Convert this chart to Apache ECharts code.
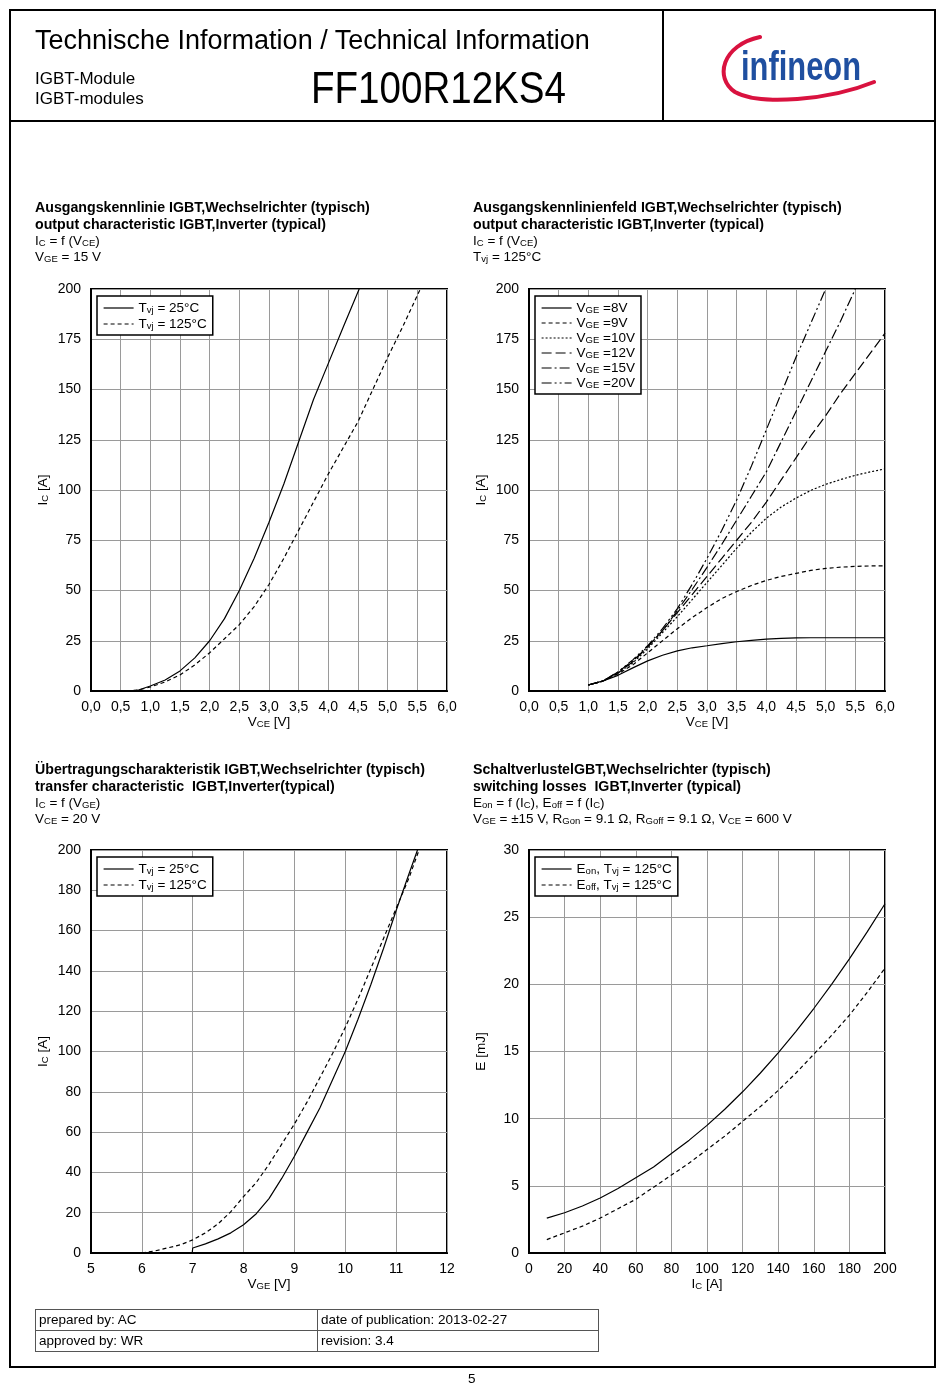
<!DOCTYPE html>
<html><head><meta charset="utf-8">
<script src="https://cdn.jsdelivr.net/npm/echarts@6/dist/echarts.min.js"></script>
<style>
html,body{margin:0;padding:0}
body{width:945px;height:1391px;position:relative;background:#fff;font-family:"Liberation Sans",Arial,sans-serif;color:#000;overflow:hidden}
.a{position:absolute;white-space:nowrap}
.t{font-size:13.5px;line-height:16px}
.t b{font-size:14.2px}
.t sub{font-size:9.5px;vertical-align:-1px;line-height:0}
#chart{position:absolute;left:0;top:0;width:945px;height:1391px}
.cell{position:absolute;border:1px solid #555;box-sizing:border-box;font-size:13.5px;line-height:19px;padding-left:3px}
</style></head><body>
<div id="chart"></div>
<div class="a" style="left:9px;top:9px;width:927px;height:1359px;border:2px solid #000;box-sizing:border-box"></div>
<div class="a" style="left:9px;top:120px;width:927px;height:2px;background:#000"></div>
<div class="a" style="left:662px;top:9px;width:2px;height:113px;background:#000"></div>
<div class="a" style="left:35px;top:27px;font-size:27px;line-height:27px">Technische Information / Technical Information</div>
<div class="a" style="left:35px;top:69px;font-size:17px;line-height:20px">IGBT-Module<br>IGBT-modules</div>
<div class="a" style="left:311px;top:66px;font-size:44px;line-height:44px;transform:scaleX(0.876);transform-origin:0 0">FF100R12KS4</div>
<svg class="a" style="left:700px;top:20px" width="200" height="95" viewBox="700 20 200 95">
<path d="M 760 37 C 722 45, 714 78, 735 92 C 760 106, 830 100, 874 82" fill="none" stroke="#d9123f" stroke-width="4" stroke-linecap="round"/>
<text x="741" y="80" font-family="Liberation Sans Narrow, Liberation Sans, Arial" font-weight="bold" font-size="40" fill="#1f4fa0" textLength="120" lengthAdjust="spacingAndGlyphs">infineon</text>
</svg>

<div class="a t" style="left:35px;top:199px"><b>Ausgangskennlinie IGBT,Wechselrichter (typisch)</b><br><b>output characteristic IGBT,Inverter (typical)</b><br>I<sub>C</sub> = f (V<sub>CE</sub>)<br>V<sub>GE</sub> = 15 V</div>
<div class="a t" style="left:473px;top:199px"><b>Ausgangskennlinienfeld IGBT,Wechselrichter (typisch)</b><br><b>output characteristic IGBT,Inverter (typical)</b><br>I<sub>C</sub> = f (V<sub>CE</sub>)<br>T<sub>vj</sub> = 125°C</div>
<div class="a t" style="left:35px;top:761px"><b>Übertragungscharakteristik IGBT,Wechselrichter (typisch)</b><br><b>transfer characteristic&nbsp; IGBT,Inverter(typical)</b><br>I<sub>C</sub> = f (V<sub>GE</sub>)<br>V<sub>CE</sub> = 20 V</div>
<div class="a t" style="left:473px;top:761px"><b>SchaltverlustelGBT,Wechselrichter (typisch)</b><br><b>switching losses&nbsp; IGBT,Inverter (typical)</b><br>E<sub>on</sub> = f (I<sub>C</sub>), E<sub>off</sub> = f (I<sub>C</sub>)<br>V<sub>GE</sub> = ±15 V, R<sub>Gon</sub> = 9.1 Ω, R<sub>Goff</sub> = 9.1 Ω, V<sub>CE</sub> = 600 V</div>

<div class="cell" style="left:35px;top:1309px;width:283px;height:22px">prepared by: AC</div>
<div class="cell" style="left:317px;top:1309px;width:282px;height:22px">date of publication: 2013-02-27</div>
<div class="cell" style="left:35px;top:1330px;width:283px;height:22px">approved by: WR</div>
<div class="cell" style="left:317px;top:1330px;width:282px;height:22px">revision: 3.4</div>
<div class="a" style="left:468px;top:1371px;font-size:13.5px">5</div>

<script>
// ---- Chart 1: output characteristic, VGE = 15 V ----
const c1_vce_25  = [0.7,0.8,1.0,1.25,1.5,1.75,2.0,2.25,2.5,2.75,3.0,3.25,3.5,3.75,4.0,4.25,4.52];
const c1_ic_25   = [0,0.5,2.5,5.5,10,16.5,25,36,50,66,84,103,124,145,163,181,200];
const c1_vce_125 = [0.6,0.8,1.0,1.25,1.5,1.75,2.0,2.25,2.5,2.75,3.0,3.25,3.5,3.75,4.0,4.25,4.5,4.75,5.0,5.25,5.55];
const c1_ic_125  = [0,0.5,2,4.5,8,13,19,26,33,42,53,66,80,94,108,121,134,150,166,181,200];

// ---- Chart 2: output characteristic field, Tvj = 125°C ----
const c2_vce   = [1.0,1.25,1.5,1.75,2.0,2.25,2.5,2.75,3.0,3.25,3.5,3.75,4.0,4.25,4.5,4.75,5.0,5.25,5.5,5.75,6.0];
const c2_ic_8  = [3,5,7.8,11.5,15,17.8,20,21.5,22.5,23.6,24.5,25.2,25.8,26.2,26.4,26.5,26.5,26.5,26.5,26.5,26.5];
const c2_ic_9  = [3,5,8.5,13,19,25,31,36.5,41.5,46,49.5,52.5,55,57,58.5,60,61,61.6,62,62.2,62.3];
const c2_ic_10 = [3,5,9,14,21,29,37,45.5,54,62.5,71,79,86,91.5,96,99.8,102.8,105.2,107.3,109,110.5];
const c2_ic_12 = [3,5,9,14.5,22,30,39,48,57,66,75,84,94,105,116,127,137,148,158,168,178];
const c2_ic_15 = [3,5,9.5,15,22,30,40,50.5,61.5,73,85,97,109,124,139,154,169,184,200];
const c2_ic_20 = [3,5,9.5,15.5,22.5,31,41,53,66,80,95,112,130,148,166,183,200];

// ---- Chart 3: transfer characteristic, VCE = 20 V ----
const c3_vge_25  = [6.0,6.99,7.0,7.25,7.5,7.75,8.0,8.25,8.5,8.75,9.0,9.25,9.5,9.75,10.0,10.25,10.5,10.75,11.0,11.25,11.42];
const c3_ic_25   = [0,0,2.5,4.5,7,10,14,19.5,27,37,48,60,72,86,100,116,133,151,170,188,200];
const c3_vge_125 = [6.0,6.25,6.5,6.75,7.0,7.25,7.5,7.75,8.0,8.25,8.5,8.75,9.0,9.25,9.5,9.75,10.0,10.25,10.5,10.75,11.0,11.25,11.45];
const c3_ic_125  = [0,1,2.5,4,6.5,10,14.5,20.5,28,35,44,54,64,75,87,99,112,126,141,156,171,186,200];

// ---- Chart 4: switching losses ----
const c4_ic   = [10,20,30,40,50,60,70,80,90,100,110,120,130,140,150,160,170,180,190,200];
const c4_eon  = [2.6,3.0,3.5,4.1,4.8,5.6,6.4,7.4,8.4,9.5,10.7,12.0,13.4,14.9,16.5,18.2,20.0,21.9,23.9,26.0];
const c4_eoff = [1.0,1.5,2.0,2.6,3.3,4.0,4.9,5.8,6.7,7.7,8.7,9.8,10.9,12.1,13.4,14.8,16.2,17.7,19.4,21.2];

// legend labels (rich text)
const legend1 = ['{n|T}{s|vj}{n| = 25°C}','{n|T}{s|vj}{n| = 125°C}'];
const legend2 = ['{n|V}{s|GE}{n| =8V}','{n|V}{s|GE}{n| =9V}','{n|V}{s|GE}{n| =10V}','{n|V}{s|GE}{n| =12V}','{n|V}{s|GE}{n| =15V}','{n|V}{s|GE}{n| =20V}'];
const legend3 = ['{n|T}{s|vj}{n| = 25°C}','{n|T}{s|vj}{n| = 125°C}'];
const legend4 = ['{n|E}{s|on}{n|, T}{s|vj}{n| = 125°C}','{n|E}{s|off}{n|, T}{s|vj}{n| = 125°C}'];

function zip(xs, ys){ return ys.map((y,i)=>[xs[i], y]); }

const FONT = 'Liberation Sans, Arial';
const rich = {
  n:{fontSize:13.5,lineHeight:14,color:'#000',fontFamily:FONT},
  s:{fontSize:9.5,lineHeight:9,verticalAlign:'bottom',color:'#000',fontFamily:FONT}
};
const grids = [
  {left:91, top:289, width:356, height:402},
  {left:529,top:289, width:356, height:402},
  {left:91, top:850, width:356, height:403},
  {left:529,top:850, width:356, height:403}
].map(g=>Object.assign(g,{show:true,borderColor:'#000',borderWidth:2,backgroundColor:'transparent',containLabel:false}));

function xAxis(i,min,max,interval,name,fmt){
  return {type:'value',gridIndex:i,min,max,interval,
    name, nameLocation:'middle', nameGap:24, nameTextStyle:{rich},
    axisLine:{show:true,onZero:false,lineStyle:{color:'#000',width:2}},
    axisTick:{show:false},
    axisLabel:{color:'#000',fontSize:14,fontFamily:FONT,margin:9,formatter:fmt},
    splitLine:{show:true,lineStyle:{color:'#9a9a9a',width:1}}};
}
function yAxis(i,min,max,interval,name){
  return {type:'value',gridIndex:i,min,max,interval,
    name, nameLocation:'middle', nameGap:41, nameTextStyle:{rich},
    axisLine:{show:true,onZero:false,lineStyle:{color:'#000',width:2}},
    axisTick:{show:false},
    axisLabel:{color:'#000',fontSize:14,fontFamily:FONT,margin:10},
    splitLine:{show:true,lineStyle:{color:'#9a9a9a',width:1}}};
}
const comma = v => v.toFixed(1).replace('.',',');

function line(name,xi,data,type){
  return {name,type:'line',xAxisIndex:xi,yAxisIndex:xi,data,symbol:'none',showSymbol:false,
    smooth:false,clip:true,z:5,
    lineStyle:{color:'#000',width:1.2,type}, itemStyle:{color:'#000'}};
}
function legend(left,top,data,names,gap){
  return {left,top,orient:'vertical',data:names,selectedMode:false,
    itemWidth:30,itemHeight:10,itemGap:gap,padding:[5,6,4,6],
    borderColor:'#000',borderWidth:1.5,backgroundColor:'#fff',
    itemStyle:{color:'rgba(0,0,0,0)',borderWidth:0,opacity:0},
    lineStyle:{color:'#000',width:1.2},
    formatter:n=>data[names.indexOf(n)],
    textStyle:{rich,fontSize:13.5,color:'#000'}};
}
const dash=[4,3], dot=[2,2], longdash=[10,4], dashdot=[10,3,2,3], dashdotdot=[10,3,2,3,2,3];

const n1=['c1a','c1b'], n2=['c2a','c2b','c2c','c2d','c2e','c2f'], n3=['c3a','c3b'], n4=['c4a','c4b'];

const option = {
  animation:false,
  textStyle:{fontFamily:FONT},
  grid:grids,
  xAxis:[
    xAxis(0,0,6,0.5,'{n|V}{s|CE}{n| [V]}',comma),
    xAxis(1,0,6,0.5,'{n|V}{s|CE}{n| [V]}',comma),
    xAxis(2,5,12,1,'{n|V}{s|GE}{n| [V]}'),
    xAxis(3,0,200,20,'{n|I}{s|C}{n| [A]}')
  ],
  yAxis:[
    yAxis(0,0,200,25,'{n|I}{s|C}{n| [A]}'),
    yAxis(1,0,200,25,'{n|I}{s|C}{n| [A]}'),
    yAxis(2,0,200,20,'{n|I}{s|C}{n| [A]}'),
    yAxis(3,0,30,5,'{n|E [mJ]}')
  ],
  legend:[
    legend(97,296,legend1,n1,2),
    legend(535,296,legend2,n2,1),
    legend(97,857,legend3,n3,2),
    legend(535,857,legend4,n4,2)
  ],
  series:[
    line('c1a',0,zip(c1_vce_25,c1_ic_25),'solid'),
    line('c1b',0,zip(c1_vce_125,c1_ic_125),dash),
    line('c2a',1,zip(c2_vce,c2_ic_8),'solid'),
    line('c2b',1,zip(c2_vce,c2_ic_9),dash),
    line('c2c',1,zip(c2_vce,c2_ic_10),dot),
    line('c2d',1,zip(c2_vce,c2_ic_12),longdash),
    line('c2e',1,zip(c2_vce,c2_ic_15),dashdot),
    line('c2f',1,zip(c2_vce,c2_ic_20),dashdotdot),
    line('c3a',2,zip(c3_vge_25,c3_ic_25),'solid'),
    line('c3b',2,zip(c3_vge_125,c3_ic_125),dash),
    line('c4a',3,zip(c4_ic,c4_eon),'solid'),
    line('c4b',3,zip(c4_ic,c4_eoff),dash)
  ]
};
const chart = echarts.init(document.getElementById('chart'),null,{renderer:'canvas'});
chart.setOption(option);
</script>
</body></html>
